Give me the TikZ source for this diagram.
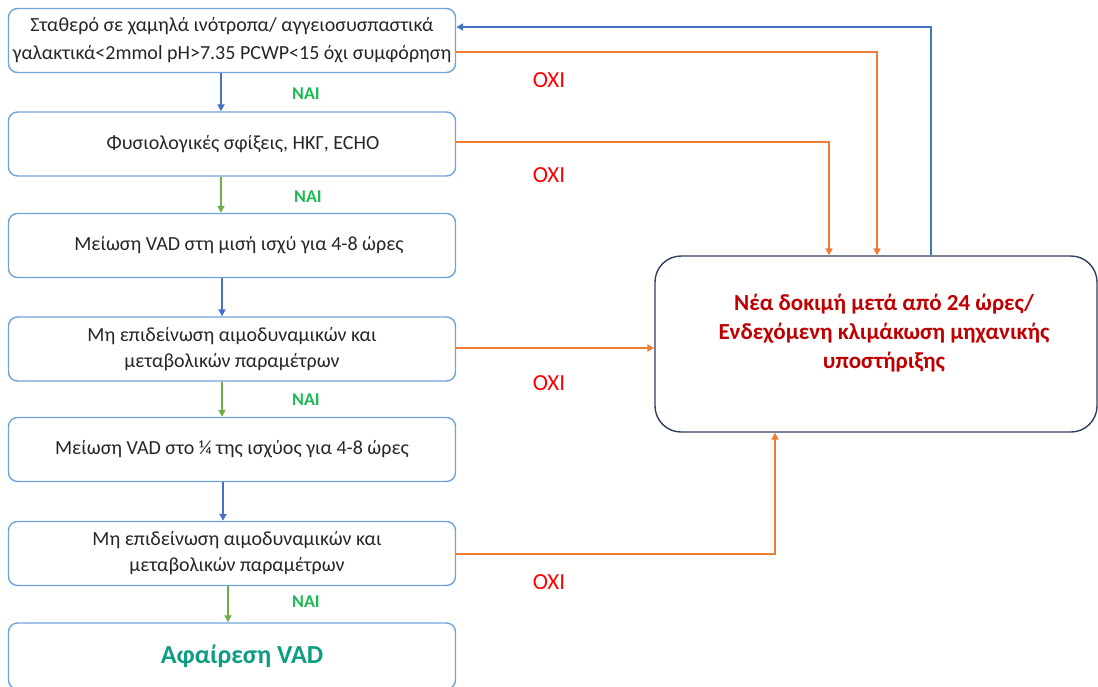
\documentclass[tikz,border=0pt]{standalone}
\usepackage{fontspec}
\setmainfont{Carlito}
\usetikzlibrary{arrows.meta,calc}
\definecolor{boxblue}{HTML}{6FA3DC}
\definecolor{arrblue}{HTML}{4472C4}
\definecolor{arrgreen}{HTML}{70AD47}
\definecolor{arrorange}{HTML}{ED7D31}
\definecolor{naigreen}{HTML}{1DB954}
\definecolor{oxired}{HTML}{FF0000}
\definecolor{darkred}{HTML}{C00000}
\definecolor{navy}{HTML}{2F3F5F}
\definecolor{tealtxt}{HTML}{0E9C82}
\definecolor{txt}{HTML}{262626}

\begin{document}
\begin{tikzpicture}[x=1pt,y=1pt,>={Triangle[length=7pt,width=7pt]},
  lbox/.style={draw=boxblue,line width=1.4pt,rounded corners=9pt,minimum width=447pt,
    minimum height=64pt,align=center,text=txt,font=\fontsize{20}{26}\selectfont,inner sep=2pt},
  rbox/.style={draw=navy,line width=1.4pt,rounded corners=26pt,minimum width=442pt,minimum height=176pt},
  bline/.style={->,arrblue,line width=2pt},
  gline/.style={->,arrgreen,line width=2pt},
  oline/.style={->,arrorange,line width=2pt},
  nai/.style={text=naigreen,font=\fontsize{18}{20}\selectfont\bfseries},
  oxi/.style={text=oxired,font=\fontsize{23}{26}\selectfont}]
\useasboundingbox (0,0) rectangle (1098,-686);
% left column
\node[lbox] (b1) at (232,-40.5) {Σταθερό σε χαμηλά ινότροπα/ αγγειοσυσπαστικά\\[2pt]γαλακτικά<2mmol pH>7.35 PCWP<15 όχι συμφόρηση};
\node[lbox] (b2) at (232,-144) {\hspace*{22pt}Φυσιολογικές σφίξεις, ΗΚΓ, ECHO};
\node[lbox] (b3) at (232,-245.5) {\hspace*{14pt}Μείωση VAD στη μισή ισχύ για 4-8 ώρες};
\node[lbox] (b4) at (232,-349) {Μη επιδείνωση αιμοδυναμικών και\\μεταβολικών παραμέτρων};
\node[lbox] (b5) at (232,-449.5) {Μείωση VAD στο ¼ της ισχύος για 4-8 ώρες};
\node[lbox] (b6) at (232,-553.5) {\hspace*{10pt}Μη επιδείνωση αιμοδυναμικών και\\\hspace*{10pt}μεταβολικών παραμέτρων};
\node[lbox,minimum height=66pt,text=tealtxt,font=\fontsize{26}{30}\selectfont\bfseries] (b7) at (232,-656) {\hspace*{20pt}Αφαίρεση VAD};
% right box
\node[rbox] (rb) at (876,-344) {};
\node[align=center,text=darkred,font=\fontsize{23}{29}\selectfont\bfseries] (rbt) at (884,-333)
  {Νέα δοκιμή μετά από 24 ώρες/\\Ενδεχόμενη κλιμάκωση μηχανικής\\υποστήριξης};
% yes arrows
\draw[bline] ([xshift=-11pt]b1.south) -- ([xshift=-11pt]b2.north) node[nai,midway,xshift=85pt,yshift=-1pt] {ΝΑΙ};
\draw[gline] ([xshift=-11pt]b2.south) -- ([xshift=-11pt]b3.north) node[nai,midway,xshift=87pt,yshift=-2pt] {ΝΑΙ};
\draw[bline] ([xshift=-10pt]b3.south) -- ([xshift=-10pt]b4.north);
\draw[gline] ([xshift=-10pt]b4.south) -- ([xshift=-10pt]b5.north) node[nai,midway,xshift=84pt] {ΝΑΙ};
\draw[bline] ([xshift=-9pt]b5.south) -- ([xshift=-9pt]b6.north);
\draw[gline] ([xshift=-4pt]b6.south) -- ([xshift=-4pt]b7.north) node[nai,midway,xshift=78pt,yshift=3pt] {ΝΑΙ};
% no arrows
\draw[oline] ([yshift=-11.5pt]b1.east) -| ([xshift=1pt]rb.north);
\draw[oline] ([yshift=2pt]b2.east) -| ([xshift=-47pt]rb.north);
\draw[oline] ([yshift=1pt]b4.east) -- ([yshift=1pt]b4.east -| rb.west);
\draw[oline] (b6.east) -| ([xshift=-101pt]rb.south);
\draw[bline] ([xshift=55pt]rb.north) |- ([yshift=13.5pt]b1.east);
\node[oxi] (n1) at (549,-80) {ΟΧΙ};
\node[oxi] (n2) at (549,-175) {ΟΧΙ};
\node[oxi] (n3) at (549,-383) {ΟΧΙ};
\node[oxi] (n4) at (549,-582) {ΟΧΙ};
\end{tikzpicture}
\end{document}
